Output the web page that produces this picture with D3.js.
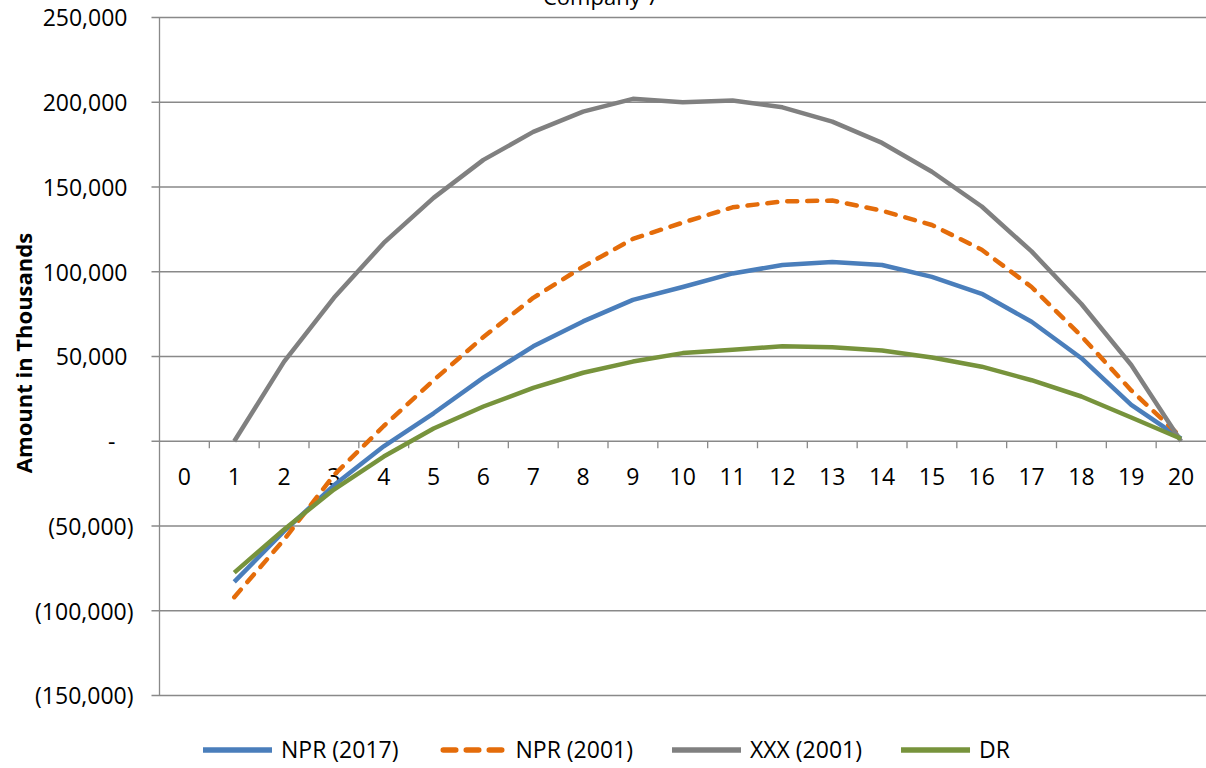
<!DOCTYPE html>
<html>
<head>
<meta charset="utf-8">
<script src="https://cdn.jsdelivr.net/npm/d3@7"></script>
<style>
  body { margin: 0; background: #fff; }
  text { font-family: "Open Sans", "Noto Sans", sans-serif; fill: #000; }
</style>
</head>
<body>
<div id="chart"></div>
<script>
(function() {

    var width = 1206;
    var height = 768;

    // chart data
    var categories = d3.range(0, 21);
    var seriesNames = ["NPR (2017)", "NPR (2001)", "XXX (2001)", "DR"];
    var npr2017 = [null, -83000, -53000, -26000, -3000, 16500, 37500, 56000, 70700, 83400, 91000,
                   99000, 104000, 105800, 104000, 97000, 87000, 70500, 49000, 21500, 1500];
    var npr2001 = [null, -92000, -58000, -20000, 9000, 36000, 61500, 84600, 103000, 119400, 129000,
                   138000, 141500, 142000, 136000, 127600, 113000, 91000, 62000, 30000, 2500];
    var xxx2001 = [null, 0, 47000, 84600, 117000, 143600, 166000, 182500, 194500, 202000, 200000,
                   201000, 197000, 188600, 176000, 159000, 138500, 112000, 81000, 45000, 0];
    var dr = [null, -77500, -52000, -28500, -9000, 7500, 20500, 31500, 40400, 47000, 52000,
              54000, 56000, 55500, 53500, 49400, 44000, 36000, 26400, 14000, 1500];
    var yTicks = [250000, 200000, 150000, 100000, 50000, 0, -50000, -100000, -150000];

    var colors = ["#4a7ebb", "#e46c0a", "#808080", "#77933c"];
    var dashes = [null, "10,10", null, null];
    var values = [npr2017, npr2001, xxx2001, dr];

    var left = 159.5, right = 1206, top = 17.5, bottom = 695.5;

    var svg = d3.select("#chart")
        .append("svg")
        .attr("width", width)
        .attr("height", height);

    var x = d3.scaleBand().domain(categories).range([left, right]).padding(0);
    var y = d3.scaleLinear().domain([-150000, 250000]).range([bottom, top]);
    var cx = d => x(d) + x.bandwidth() / 2;

    // gridlines
    svg.append("g")
        .selectAll("line")
        .data(yTicks)
        .enter().append("line")
        .attr("x1", left - 8).attr("x2", right)
        .attr("y1", d => y(d)).attr("y2", d => y(d))
        .attr("stroke", "#898989")
        .attr("stroke-width", 1.3);

    // vertical axis line
    svg.append("line")
        .attr("x1", left).attr("x2", left)
        .attr("y1", top).attr("y2", bottom)
        .attr("stroke", "#898989")
        .attr("stroke-width", 1.3);

    // y tick labels, accounting style
    var fmt = d3.format(",");
    var yAxis = d3.axisLeft(y)
        .tickValues(yTicks)
        .tickSize(0)
        .tickPadding(0)
        .tickFormat(d => d > 0 ? fmt(d) : d < 0 ? "(" + fmt(-d) + ")" : "-");
    var yg = svg.append("g")
        .attr("transform", "translate(" + left + ",0)")
        .call(yAxis);
    yg.select(".domain").remove();
    yg.selectAll("text")
        .style("font-size", "23px")
        .attr("font-family", null)
        .attr("x", d => d > 0 ? -32 : d < 0 ? -26 : -44)
        .attr("dy", "0.36em");

    // x category boundary ticks
    svg.append("g")
        .selectAll("line")
        .data(categories.slice(1))
        .enter().append("line")
        .attr("x1", d => x(d)).attr("x2", d => x(d))
        .attr("y1", y(0)).attr("y2", y(0) + 7)
        .attr("stroke", "#898989")
        .attr("stroke-width", 1.3);

    var xAxis = d3.axisBottom(x).tickSize(0).tickPadding(27);
    var xg = svg.append("g")
        .attr("transform", "translate(0," + y(0) + ")")
        .call(xAxis);
    xg.select(".domain").remove();
    xg.selectAll("text")
        .style("font-size", "23px")
        .attr("font-family", null);

    // series lines
    var line = d3.line()
        .defined(d => d.v != null)
        .x(d => cx(d.c))
        .y(d => y(d.v));

    values.forEach(function(vals, i) {
        var pts = categories.map((c, j) => ({c: c, v: vals[j]}));
        svg.append("path")
            .datum(pts)
            .attr("d", line)
            .attr("fill", "none")
            .attr("stroke", colors[i])
            .attr("stroke-width", 4.5)
            .attr("stroke-linejoin", "round")
            .attr("stroke-linecap", dashes[i] ? "round" : "butt")
            .attr("stroke-dasharray", dashes[i]);
    });

    // title (partly cut off at the top, as in the original)
    svg.append("text")
        .attr("x", 601)
        .attr("y", 5)
        .attr("text-anchor", "middle")
        .style("font-size", "22px")
        .text("Company 7");

    // y axis title
    svg.append("text")
        .attr("transform", "translate(32,353) rotate(-90)")
        .attr("text-anchor", "middle")
        .style("font-size", "22px")
        .style("font-weight", "bold")
        .text("Amount in Thousands");

    // legend
    var lx = 203, ly = 750;
    seriesNames.forEach(function(name, i) {
        var g = svg.append("g").attr("transform", "translate(" + lx + "," + ly + ")");
        g.append("line")
            .attr("x1", dashes[i] ? 5.75 : 0).attr("x2", dashes[i] ? 70 : 69)
            .attr("y1", 0).attr("y2", 0)
            .attr("stroke", colors[i])
            .attr("stroke-width", 5.5)
            .attr("stroke-linecap", dashes[i] ? "round" : "butt")
            .attr("stroke-dasharray", dashes[i] ? "12.5,10.5" : null);
        var t = g.append("text")
            .attr("x", 78)
            .attr("y", 8)
            .style("font-size", "23px")
            .text(name);
        lx += 78 + t.node().getComputedTextLength() + 39;
    });

})();
</script>
</body>
</html>
